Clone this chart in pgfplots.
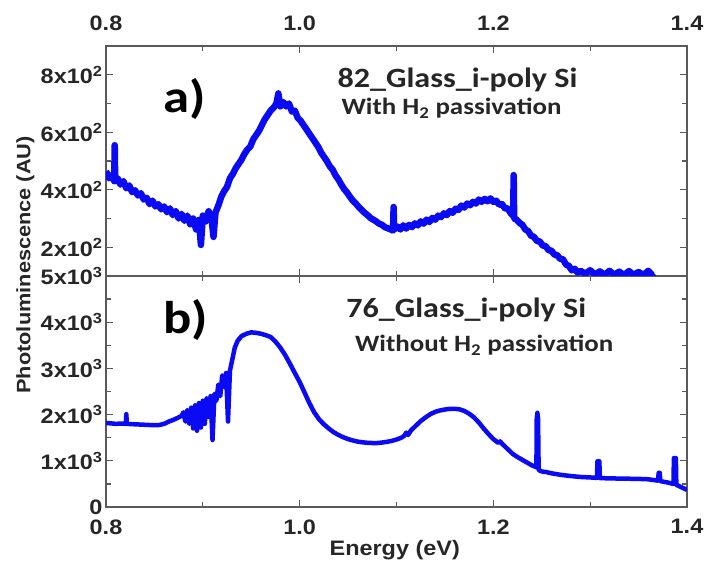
\documentclass[border=0pt]{standalone}
\usepackage{pgfplots}
\pgfplotsset{compat=1.18}
\usepackage{fontspec}
\setmainfont{Liberation Sans}[FakeStretch=1.12]
\newfontfamily\calibri{Carlito}[FakeStretch=1.15]
\definecolor{framegray}{RGB}{90,90,90}
\definecolor{plblue}{RGB}{10,10,245}

\pgfplotsset{
  pl/.style={
    width=581bp, height=231bp, scale only axis,
    xmin=0.8, xmax=1.4,
    xtick={0.8,1.0,1.2,1.4}, minor x tick num=1,
    xticklabels={0.8,1.0,1.2,1.4},
    tick align=inside, major tick length=7bp, minor tick length=5bp,
    axis line style={framegray, line width=1.2bp},
    every tick/.style={framegray, line width=1.2bp},
    tick label style={font=\fontsize{21}{24}\selectfont\bfseries, text=black!85},
    clip=true,
  },
}
\tikzset{
  ann/.style={anchor=base west, font=\calibri\fontsize{28}{32}\selectfont\bfseries, text=black!85, inner sep=0pt},
  ann2/.style={anchor=base west, font=\calibri\fontsize{23.5}{28}\selectfont\bfseries, text=black!85, inner sep=0pt},
  lab/.style={anchor=base west, font=\calibri\fontsize{46}{50}\selectfont\bfseries, inner sep=0pt},
}

\pgfplotstableread{
x y
0.800 1820
0.805 1810
0.810 1800
0.815 1805
0.8205 1800
0.8210 2010
0.8215 1800
0.825 1795
0.830 1790
0.835 1785
0.840 1780
0.845 1775
0.850 1770
0.855 1775
0.860 1800
0.865 1850
0.870 1890
0.875 1940
0.878 1970
0.880 2050
0.882 1850
0.884 2100
0.886 1800
0.888 2150
0.890 1700
0.892 2200
0.894 1650
0.896 2250
0.898 1720
0.900 2300
0.902 1800
0.904 2350
0.906 1950
0.908 2400
0.910 1450
0.912 2450
0.914 2300
0.916 2650
0.918 2400
0.920 2850
0.922 2600
0.924 2900
0.926 1850
0.928 2950
0.930 3150
0.933 3450
0.936 3600
0.940 3700
0.945 3750
0.950 3780
0.955 3770
0.960 3750
0.965 3720
0.970 3680
0.975 3580
0.980 3450
0.985 3290
0.990 3100
0.995 2900
1.000 2705
1.005 2480
1.010 2250
1.015 2050
1.020 1900
1.025 1790
1.030 1700
1.035 1620
1.040 1560
1.045 1510
1.050 1470
1.055 1440
1.060 1415
1.065 1400
1.070 1390
1.075 1385
1.080 1385
1.085 1395
1.090 1410
1.095 1430
1.100 1460
1.105 1500
1.108 1540
1.110 1610
1.112 1560
1.115 1660
1.120 1760
1.125 1860
1.130 1940
1.135 2010
1.140 2060
1.145 2090
1.150 2110
1.155 2125
1.160 2125
1.165 2115
1.170 2080
1.175 2020
1.180 1940
1.185 1830
1.190 1700
1.195 1580
1.200 1470
1.205 1390
1.207 1420
1.209 1370
1.215 1250
1.220 1150
1.225 1080
1.230 1020
1.235 960
1.240 900
1.2445 860
1.2448 1900
1.2455 2040
1.2462 1900
1.2468 800
1.250 770
1.255 755
1.260 730
1.270 695
1.280 670
1.290 650
1.300 640
1.3070 630
1.3075 990
1.3095 990
1.3100 625
1.320 620
1.330 615
1.340 612
1.350 608
1.360 600
1.3700 570
1.3708 740
1.3718 740
1.3725 560
1.380 530
1.3860 500
1.3865 1060
1.3885 1060
1.3890 480
1.395 420
1.400 370
}\bottomdata

\pgfplotstableread{
x y
0.800 465
0.803 440
0.806 452
0.8085 430
0.8090 555
0.8095 430
0.812 440
0.815 418
0.818 430
0.821 405
0.824 415
0.827 392
0.830 398
0.833 380
0.836 388
0.839 366
0.842 372
0.845 350
0.848 362
0.851 342
0.854 350
0.857 332
0.860 342
0.863 322
0.866 335
0.869 312
0.872 326
0.875 300
0.878 316
0.881 292
0.884 310
0.887 280
0.890 300
0.893 262
0.896 295
0.898 208
0.900 310
0.903 290
0.906 325
0.909 300
0.911 236
0.913 320
0.916 345
0.919 375
0.922 395
0.925 410
0.928 440
0.931 455
0.934 475
0.937 490
0.940 505
0.943 525
0.946 540
0.949 550
0.952 575
0.955 590
0.958 605
0.961 625
0.964 645
0.967 660
0.970 675
0.973 685
0.976 700
0.978 735
0.980 690
0.983 705
0.986 690
0.989 700
0.992 672
0.995 675
0.998 650
1.001 640
1.004 625
1.007 610
1.010 595
1.013 580
1.016 565
1.019 550
1.022 530
1.025 515
1.028 500
1.031 482
1.034 470
1.037 450
1.040 436
1.043 418
1.046 402
1.049 390
1.052 375
1.055 362
1.058 352
1.061 340
1.064 330
1.067 320
1.070 312
1.073 302
1.076 296
1.079 290
1.082 282
1.085 278
1.088 270
1.091 266
1.094 262
1.0965 258
1.0970 340
1.0975 262
1.101 272
1.104 262
1.107 276
1.110 265
1.113 278
1.116 270
1.119 283
1.122 276
1.125 290
1.128 282
1.131 296
1.134 288
1.137 302
1.140 296
1.143 310
1.146 305
1.149 318
1.152 312
1.155 326
1.158 320
1.161 334
1.164 330
1.167 345
1.170 338
1.173 352
1.176 346
1.179 358
1.182 352
1.185 366
1.188 358
1.191 368
1.194 360
1.197 370
1.200 358
1.203 362
1.206 348
1.209 350
1.212 335
1.215 335
1.218 318
1.2205 310
1.2210 451
1.2215 300
1.224 296
1.227 285
1.230 278
1.233 262
1.236 256
1.239 240
1.242 236
1.245 222
1.248 220
1.251 206
1.254 204
1.257 190
1.260 188
1.263 175
1.266 172
1.269 160
1.272 158
1.275 140
1.278 135
1.281 120
1.284 125
1.287 112
1.290 118
1.295 108
1.300 120
1.305 105
1.310 116
1.315 104
1.320 118
1.325 104
1.330 115
1.335 103
1.340 117
1.345 104
1.350 114
1.355 103
1.360 118
1.364 104
1.366 110
}\topdata

\begin{document}
\begin{tikzpicture}
\useasboundingbox (-106bp,-55bp) rectangle (600bp,507bp);
% bottom panel (b)
\begin{axis}[pl, at={(0,0)},
  ymin=0, ymax=5000,
  ytick={0,1000,2000,3000,4000,5000},
  yticklabels={0,1x10\textsuperscript{3},2x10\textsuperscript{3},3x10\textsuperscript{3},4x10\textsuperscript{3},5x10\textsuperscript{3}},
  minor y tick num=1,
  xticklabel style={yshift=-9bp},
  xlabel={Energy (eV)},
  xlabel style={at={(axis description cs:0.497,0)}, anchor=center, yshift=-43bp, font=\fontsize{21}{24}\selectfont\bfseries, text=black!85},
  ylabel={Photoluminescence (AU)},
  ylabel style={at={(axis description cs:-0.139,1.048)}, anchor=center, font=\fontsize{19.5}{24}\selectfont\bfseries, text=black!85},
]
\addplot[plblue, line width=4.5bp, line join=round] table[x=x,y=y] {\bottomdata};
\node[lab] at (axis cs:0.859,3766) {b)};
\node[ann] at (axis cs:1.048,4091) {76\_Glass\_i-poly Si};
\node[ann2] at (axis cs:1.057,3355) {Without H\textsubscript{2} passivation};
\end{axis}
% top panel (a)
\begin{axis}[pl, at={(0,231bp)}, height=230bp,
  ymin=100, ymax=900,
  ytick={200,400,600,800},
  yticklabels={2x10\textsuperscript{2},4x10\textsuperscript{2},6x10\textsuperscript{2},8x10\textsuperscript{2}},
  minor y tick num=1,
  xticklabel pos=upper,
  xticklabel style={yshift=12bp},
]
\addplot[plblue, line width=6.5bp, line join=round] table[x=x,y=y] {\topdata};
\node[lab] at (axis cs:0.859,667) {a)};
\node[ann] at (axis cs:1.039,754) {82\_Glass\_i-poly Si};
\node[ann2] at (axis cs:1.043,660) {With H\textsubscript{2} passivation};
\end{axis}
\end{tikzpicture}
\end{document}
